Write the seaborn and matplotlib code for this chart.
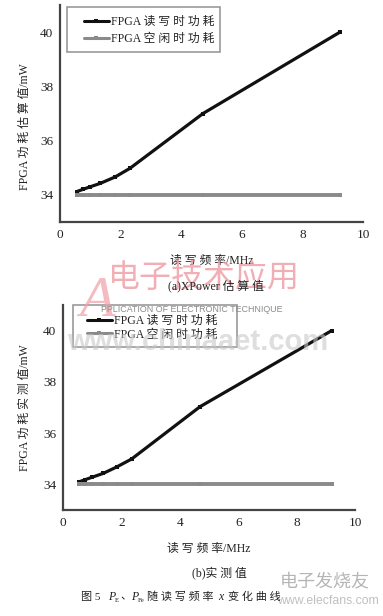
import matplotlib
matplotlib.use("Agg")
import matplotlib.pyplot as plt
import seaborn as sns
import pandas as pd
from matplotlib.ticker import MultipleLocator
from matplotlib.patches import Rectangle

sns.set_style("white")
plt.rcParams['font.family'] = ['Liberation Serif', 'Noto Sans CJK SC']
plt.rcParams['axes.unicode_minus'] = False

# ---- data ----
freq_a = [0.55, 0.75, 1.0, 1.32, 1.82, 2.31, 4.72, 9.24]
rw_a = [34.12, 34.2, 34.3, 34.42, 34.66, 34.98, 37.0, 40.0]
idle_a = [34.0, 34.0, 34.0, 34.0, 34.0, 34.0, 34.0, 34.0]

freq_b = [0.55, 0.75, 1.0, 1.38, 1.84, 2.35, 4.69, 9.2]
rw_b = [34.1, 34.18, 34.28, 34.43, 34.68, 34.99, 37.03, 40.0]
idle_b = [34.0, 34.0, 34.0, 34.0, 34.0, 34.0, 34.0, 34.0]

series_names = ["FPGA 读 写 时 功 耗", "FPGA 空 闲 时 功 耗"]
x_ticks = [0, 2, 4, 6, 8, 10]
y_ticks = [34, 36, 38, 40]
xlabel = "读 写 频 率/MHz"
ylabel_a = "FPGA 功 耗 估 算 值/mW"
ylabel_b = "FPGA 功 耗 实 测 值/mW"
cap_a = "(a)XPower 估 算 值"
cap_b = "(b)实 测 值"

W, H = 383, 616
fig = plt.figure(figsize=(W / 100, H / 100), dpi=100)

AX_A = (60, 5, 363, 222)
AX_B = (63, 305, 355, 510)

def px_axes(box):
    l, t, r, b = box
    return fig.add_axes([l / W, 1 - b / H, (r - l) / W, (b - t) / H])

ax1 = px_axes(AX_A)
ax2 = px_axes(AX_B)

palette = {series_names[0]: "#111111", series_names[1]: "#8a8a8a"}

def to_ax(box, x, y):
    l, t, r, b = box
    return (x - l) / (r - l), (b - y) / (b - t)

def draw(ax, box, freq, rw, idle, ylabel, leg_xy, leg_space, frame, ylab_xy):
    df = pd.DataFrame({
        "freq": freq + freq,
        "power": rw + idle,
        "series": [series_names[0]] * len(freq) + [series_names[1]] * len(freq),
    })
    sns.lineplot(data=df, x="freq", y="power", hue="series", palette=palette,
                 ax=ax, marker="s", markersize=3, markeredgewidth=0,
                 linewidth=2.2, legend=True, hue_order=series_names)
    for ln, lw in zip(ax.lines[:2], [2.3, 2.8]):
        ln.set_linewidth(lw)
    ax.set_xlim(0, 10)
    ax.set_ylim(33, 41)
    ax.set_xticks(x_ticks)
    ax.set_yticks(y_ticks)
    ax.xaxis.set_minor_locator(MultipleLocator(1))
    ax.yaxis.set_minor_locator(MultipleLocator(1))
    ax.tick_params(axis="both", which="major", direction="inout", length=4,
                   width=1, color="#444444", labelsize=9.5, labelcolor="#222222", pad=3)
    ax.tick_params(axis="both", which="minor", direction="inout", length=3,
                   width=0.8, color="#666666")
    for s in ["top", "right"]:
        ax.spines[s].set_visible(False)
    for s in ["left", "bottom"]:
        ax.spines[s].set_color("#444444")
        ax.spines[s].set_linewidth(1.6)
    ax.set_xlabel(xlabel, fontsize=8.5, color="#222222", labelpad=10)
    ax.set_ylabel(ylabel, fontsize=8.5, color="#222222")
    ax.yaxis.set_label_coords(*ylab_xy)
    leg = ax.legend(loc="upper left", bbox_to_anchor=to_ax(box, *leg_xy),
                    frameon=False, fontsize=8.5, handlelength=2.1,
                    borderpad=0, labelspacing=leg_space, handletextpad=0.15,
                    borderaxespad=0)
    for t in leg.get_texts():
        t.set_color("#222222")
    fx0, fy0, fx1, fy1 = frame
    x0, y0 = to_ax(box, fx0, fy1)
    x1, y1 = to_ax(box, fx1, fy0)
    ax.add_patch(Rectangle((x0, y0), x1 - x0, y1 - y0, transform=ax.transAxes,
                           fill=True, facecolor="white", edgecolor="#999999",
                           linewidth=1.2, clip_on=False, zorder=4))
    leg.set_zorder(5)
    ax.set_facecolor("none")

draw(ax1, AX_A, freq_a, rw_a, idle_a, ylabel_a, (84, 16), 0.45,
     (67, 7, 220, 52), (-0.096, 0.44))
draw(ax2, AX_B, freq_b, rw_b, idle_b, ylabel_b, (87, 315), 0.12,
     (73, 305, 237, 347), (-0.11, 0.50))

def ftext(x, y, s, ha="center", **kw):
    fig.text(x / W, 1 - y / H, s, ha=ha, va="center", **kw)

# watermarks
ftext(204, 278, "电子技术应用", fontsize=23, color="#f0a0a8", alpha=0.85,
      family=["Noto Sans CJK SC"], style="italic", zorder=10)
ftext(97, 302, "A", fontsize=42, color="#f0a0a8", alpha=0.7, style="italic",
      family=["Liberation Serif"], zorder=10)
ftext(192, 310, "PPLICATION OF ELECTRONIC TECHNIQUE", fontsize=6.4,
      color="#8a8a8a", family=["Liberation Sans"], zorder=10)
ftext(198, 342, "www.chinaaet.com", fontsize=21, color="#c8c8c8",
      family=["Liberation Sans"], weight="bold", alpha=0.6, zorder=10)
ftext(325, 581, "电子发烧友", fontsize=13, color="#b5b5b5", style="italic",
      family=["Noto Sans CJK SC"], zorder=10)
ftext(328, 601, "www.elecfans.com", fontsize=8.8, color="#c0c0c0",
      family=["Liberation Sans"], zorder=10)

ftext(216, 286, cap_a, fontsize=8.5, color="#222222", zorder=11)
ftext(219, 573, cap_b, fontsize=8.5, color="#222222", zorder=11)

# figure caption built from pieces (CJK + italic symbols with subscripts)
cy = 597
cc = "#222222"
ftext(81, cy, "图 5", ha="left", fontsize=8, color=cc, zorder=11)
ftext(108, cy, "P", ha="left", fontsize=8.5, style="italic", color=cc, zorder=11)
ftext(115, cy + 3, "E", ha="left", fontsize=5, color=cc, zorder=11)
ftext(120, cy, "、", ha="left", fontsize=8, color=cc, zorder=11)
ftext(131, cy, "P", ha="left", fontsize=8.5, style="italic", color=cc, zorder=11)
ftext(138, cy + 3, "Fe", ha="left", fontsize=5, color=cc, zorder=11)
ftext(147, cy, "随 读 写 频 率", ha="left", fontsize=8, color=cc, zorder=11)
ftext(218, cy, "x", ha="left", fontsize=8.5, style="italic", color=cc, zorder=11)
ftext(228, cy, "变 化 曲 线", ha="left", fontsize=8, color=cc, zorder=11)

fig.savefig("out.png", dpi=100)
